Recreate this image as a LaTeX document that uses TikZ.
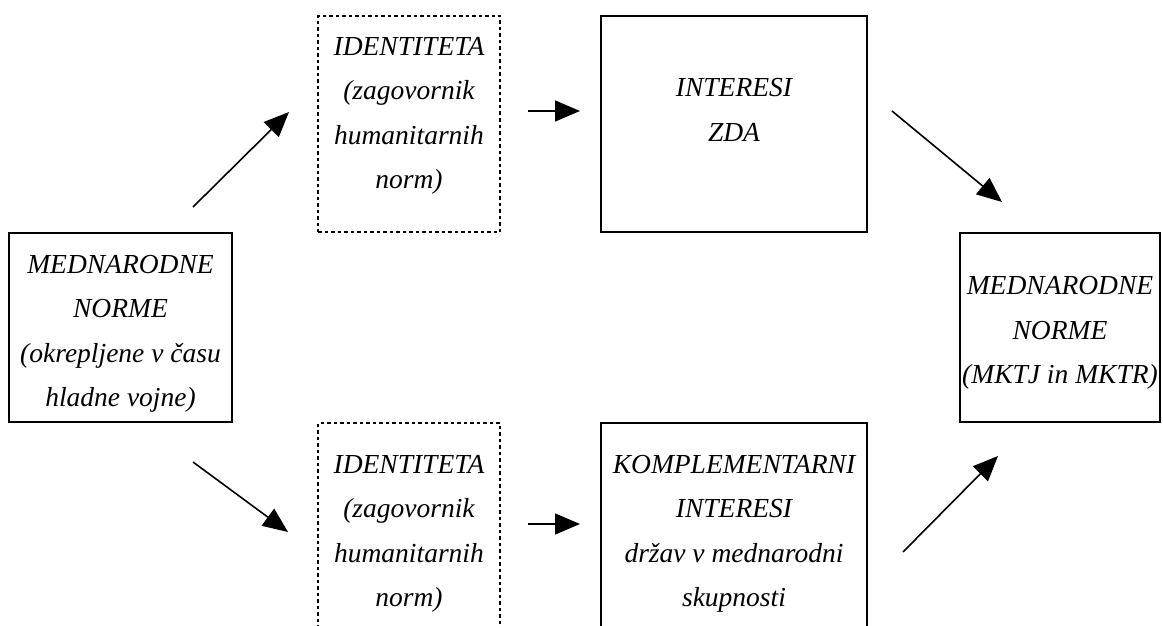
\documentclass[tikz,border=0pt]{standalone}
\usepackage{fontspec}
\setmainfont{Liberation Serif}
\usetikzlibrary{arrows.meta}
\begin{document}
\begin{tikzpicture}[x=1pt,y=-1pt,
  txt/.style={align=center,font=\fontsize{27.5}{44.5}\selectfont\itshape,inner sep=0pt},
  solidbox/.style={draw,line width=2pt,inner sep=0pt},
  dotbox/.style={draw,line width=1.6pt,dash pattern=on 3.5pt off 3pt,inner sep=0pt},
  conn/.style={line width=1.6pt,-{Triangle[length=25pt,width=21pt]}}]
\useasboundingbox (0,0) rectangle (1163,626);
\clip (0,0) rectangle (1163,626);
% boxes
\node[solidbox,minimum width=223,minimum height=189] (lbox) at (120.5,327.5) {};
\node[dotbox,minimum width=182,minimum height=216] (tdot) at (409,124) {};
\node[solidbox,minimum width=266,minimum height=216] (tint) at (734,124) {};
\node[solidbox,minimum width=200,minimum height=189] (rbox) at (1060,327.5) {};
\node[dotbox,minimum width=182,minimum height=240] (bdot) at (409,543) {};
\node[solidbox,minimum width=266,minimum height=240] (bint) at (734,543) {};
% texts
\node[txt] (ltxt) at (120.5,334) {MEDNARODNE\\NORME\\(okrepljene v času\\hladne vojne)};
\node[txt] (tdtxt) at (409,116) {IDENTITETA\\(zagovornik\\humanitarnih\\norm)};
\node[txt] (titxt) at (734,110) {INTERESI\\ZDA};
\node[txt] (rtxt) at (1060,333) {MEDNARODNE\\NORME\\(MKTJ in MKTR)};
\node[txt] (bdtxt) at (409,534) {IDENTITETA\\(zagovornik\\humanitarnih\\norm)};
\node[txt] (bitxt) at (734,534) {KOMPLEMENTARNI\\INTERESI\\držav v mednarodni\\skupnosti};
% arrow end points
\coordinate (a1s) at (193,207); \coordinate (a1e) at (289,112);
\coordinate (a2s) at (528,111); \coordinate (a2e) at (580,111);
\coordinate (a3s) at (892,111); \coordinate (a3e) at (1002,202);
\coordinate (a4s) at (193,462); \coordinate (a4e) at (288,532);
\coordinate (a5s) at (528,524); \coordinate (a5e) at (580,524);
\coordinate (a6s) at (903,552); \coordinate (a6e) at (998,456);
\draw[conn] (a1s) -- (a1e);
\draw[conn] (a2s) -- (a2e);
\draw[conn] (a3s) -- (a3e);
\draw[conn] (a4s) -- (a4e);
\draw[conn] (a5s) -- (a5e);
\draw[conn] (a6s) -- (a6e);
\end{tikzpicture}
\end{document}
